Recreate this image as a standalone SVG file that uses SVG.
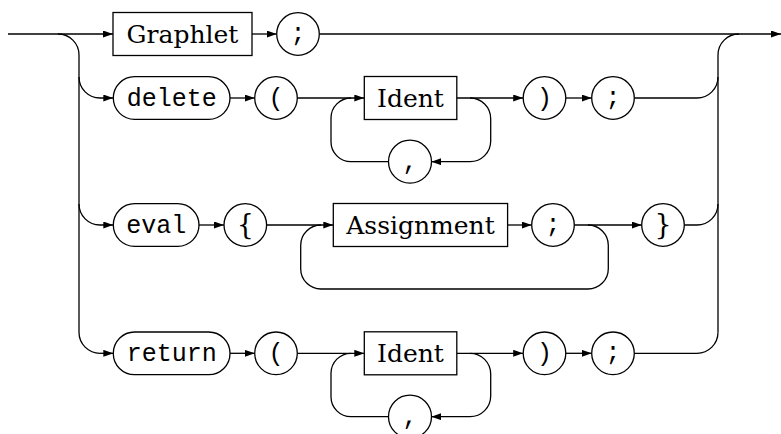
<svg xmlns="http://www.w3.org/2000/svg" width="781" height="434" viewBox="0 0 781 434">
<defs>
<marker id="arr" viewBox="0 0 10 7" refX="10" refY="3.5" markerUnits="userSpaceOnUse" markerWidth="10" markerHeight="7" orient="auto">
<path d="M0,0 L10,3.5 L0,7 Z" fill="#000"/>
</marker>
<style>
.c path{fill:none;stroke:#000;stroke-width:1.3}
.a{marker-end:url(#arr)}
.n rect,.n circle{fill:#fff;stroke:#000;stroke-width:1.3}
text{fill:#000;text-anchor:middle}
.rm{font-family:"DejaVu Serif","Liberation Serif",serif;font-size:25px}
.br{font-family:"DejaVu Serif","Liberation Serif",serif;font-size:27px}
.tt{font-family:"Liberation Mono","DejaVu Sans Mono",monospace;font-size:25px}
</style>
</defs>
<rect width="781" height="434" fill="#fff"/>
<g id="connectors" class="c">
<path class="a" d="M8,34 H113"/>
<path class="a" d="M252,34 H276.7"/>
<path class="a" d="M319.3,34 H781"/>
<path d="M58,34 A21,21 0 0 1 79,55 V332.3 A21,21 0 0 0 100,353.3"/>
<path class="a" d="M100,353.3 H113.3"/>
<path class="a" d="M79,77 A21,21 0 0 0 100,98 H113.3"/>
<path class="a" d="M79,204 A21,21 0 0 0 100,225 H113.3"/>
<path d="M739,34 A21,21 0 0 0 718,55 V332.3"/>
<path d="M634.3,98 H697 A21,21 0 0 0 718,77"/>
<path d="M684.3,225 H697 A21,21 0 0 0 718,204"/>
<path d="M634.3,353.3 H697 A21,21 0 0 0 718,332.3"/>
<path class="a" d="M230,98 H254.7"/>
<path class="a" d="M297.3,98 H364.3"/>
<path d="M388.7,161.7 H351 A20,20 0 0 1 331,141.7 V118 A20,20 0 0 1 351,98"/>
<path class="a" d="M456.8,98 H523.2"/>
<path class="a" d="M470,98 A20.7,20.7 0 0 1 490.7,118.7 V141 A20.7,20.7 0 0 1 470,161.7 H431.3"/>
<path class="a" d="M565.8,98 H591.7"/>
<path class="a" d="M199,225 H224"/>
<path class="a" d="M266.6,225 H333.3"/>
<path class="a" d="M507.6,225 H531.7"/>
<path class="a" d="M574.3,225 H641.7"/>
<path d="M588,225 A20.3,20.3 0 0 1 608.3,245.3 V268.7 A20.3,20.3 0 0 1 588,289 H321 A20.3,20.3 0 0 1 300.7,268.7 V245.3 A20.3,20.3 0 0 1 321,225"/>
<path class="a" d="M230,353.3 H254.7"/>
<path class="a" d="M297.3,353.3 H364.3"/>
<path d="M388.7,416.7 H351 A20,20 0 0 1 331,396.7 V373.3 A20,20 0 0 1 351,353.3"/>
<path class="a" d="M456.8,353.3 H523.2"/>
<path class="a" d="M470,353.3 A20.7,20.7 0 0 1 490.7,374 V396 A20.7,20.7 0 0 1 470,416.7 H431.3"/>
<path class="a" d="M565.8,353.3 H591.7"/>
</g>
<g class="n">
<g id="graphlet"><rect x="113" y="12.5" width="139" height="43"/><text class="rm" x="182.5" y="42.5">Graphlet</text></g>
<g id="ident1"><rect x="364.3" y="76.5" width="92.5" height="43"/><text class="rm" x="410.5" y="106.5">Ident</text></g>
<g id="lbrace"><circle cx="245.3" cy="225" r="21.3"/><text class="br" x="245.3" y="234">{</text></g>
<g id="assignment"><rect x="333.3" y="203.5" width="174.3" height="43"/><text class="rm" x="420.5" y="233.5">Assignment</text></g>
<g id="rbrace"><circle cx="663" cy="225" r="21.3"/><text class="br" x="663" y="234">}</text></g>
<g id="ident2"><rect x="364.3" y="331.8" width="92.5" height="43"/><text class="rm" x="410.5" y="361.8">Ident</text></g>
<g id="semi1"><circle cx="298" cy="34" r="21.3"/><text class="tt" x="298" y="41">;</text></g>
<g id="delete"><rect x="113.3" y="76.7" width="116.7" height="42.7" rx="21.3"/><text class="tt" x="171.7" y="106">delete</text></g>
<g id="lparen1"><circle cx="276" cy="98" r="21.3"/><text class="tt" x="276" y="106">(</text></g>
<g id="comma1"><circle cx="410" cy="161.7" r="21.5"/><text class="tt" x="410" y="169">,</text></g>
<g id="rparen1"><circle cx="544.5" cy="98" r="21.3"/><text class="tt" x="544.5" y="106">)</text></g>
<g id="semi2"><circle cx="613" cy="98" r="21.3"/><text class="tt" x="613" y="105">;</text></g>
<g id="eval"><rect x="113.3" y="203.7" width="85.7" height="42.7" rx="21.3"/><text class="tt" x="156.2" y="233">eval</text></g>
<g id="semi3"><circle cx="553" cy="225" r="21.3"/><text class="tt" x="553" y="232">;</text></g>
<g id="return"><rect x="113.3" y="332" width="116.7" height="42.7" rx="21.3"/><text class="tt" x="171.7" y="361.3">return</text></g>
<g id="lparen2"><circle cx="276" cy="353.3" r="21.3"/><text class="tt" x="276" y="361.3">(</text></g>
<g id="comma2"><circle cx="410" cy="416.7" r="21.5"/><text class="tt" x="410" y="424">,</text></g>
<g id="rparen2"><circle cx="544.5" cy="353.3" r="21.3"/><text class="tt" x="544.5" y="361.3">)</text></g>
<g id="semi4"><circle cx="613" cy="353.3" r="21.3"/><text class="tt" x="613" y="360.3">;</text></g>
</g>
</svg>
